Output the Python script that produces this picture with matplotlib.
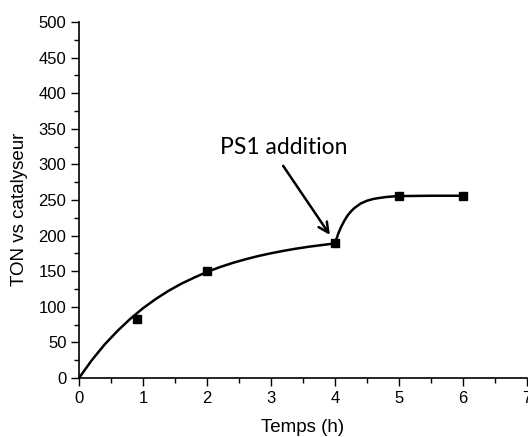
import matplotlib
matplotlib.use('Agg')
import matplotlib.pyplot as plt
from matplotlib.ticker import MultipleLocator

# measured points
t_pts = [0.9, 2, 4, 5, 6]
ton_pts = [83, 150, 189, 256, 256]

# fitted curve, before PS1 addition
t_fit1 = [0, 0.2, 0.4, 0.6, 0.8, 1.0, 1.2, 1.4, 1.6, 1.8, 2.0,
          2.2, 2.4, 2.6, 2.8, 3.0, 3.2, 3.4, 3.6, 3.8, 4.0]
ton_fit1 = [0, 25, 47, 66, 83, 98, 111, 122.5, 132.5, 141, 149,
            155.7, 161.6, 166.7, 171.3, 175.2, 178.7, 181.8, 184.5, 186.8, 189]

# fitted curve after PS1 addition
t_fit2 = [4.0, 4.025, 4.05, 4.075, 4.1, 4.15, 4.2, 4.25, 4.3, 4.4, 4.5,
          4.6, 4.7, 4.8, 4.9, 5.0, 5.5, 6.0]
ton_fit2 = [189, 196, 202.5, 208, 213, 221.5, 228.7, 234, 238.5, 245, 249,
            251.5, 253, 254.2, 255, 255.5, 256, 256]

plt.rcParams['font.family'] = ['Liberation Sans', 'DejaVu Sans']

fig = plt.figure(figsize=(5.28, 4.37), dpi=100)
ax = fig.add_axes([0.1496, 0.135, 0.8485, 0.8146])

ax.plot(t_fit1, ton_fit1, color='black', lw=1.8, solid_capstyle='round')
ax.plot(t_fit2, ton_fit2, color='black', lw=1.8, solid_capstyle='round')
ax.plot(t_pts, ton_pts, 's', color='black', markersize=6, linestyle='none')

ax.annotate('', xy=(3.92, 201), xytext=(3.19, 298),
            arrowprops=dict(arrowstyle='->', color='black', lw=1.8,
                            mutation_scale=18, shrinkA=0, shrinkB=0))
ax.text(2.2, 315, 'PS1 addition', fontsize=16.5, family=['Lato', 'DejaVu Sans'],
        ha='left', va='baseline')

ax.set_xlim(0, 7)
ax.set_ylim(0, 500)
ax.xaxis.set_major_locator(MultipleLocator(1))
ax.xaxis.set_minor_locator(MultipleLocator(0.5))
ax.yaxis.set_major_locator(MultipleLocator(50))
ax.yaxis.set_minor_locator(MultipleLocator(25))
ax.tick_params(which='major', direction='out', length=6, width=1, labelsize=12, pad=3)
ax.tick_params(which='minor', direction='out', length=3.5, width=1)

ax.spines['top'].set_visible(False)
ax.spines['right'].set_visible(False)
ax.spines['left'].set_linewidth(1.2)
ax.spines['bottom'].set_linewidth(1.2)

ax.set_xlabel('Temps (h)', fontsize=13.5, labelpad=10)
ax.set_ylabel('TON vs catalyseur', fontsize=13.5)
ax.yaxis.set_label_coords(-0.114, 0.475)

fig.savefig('out.png', dpi=100)
